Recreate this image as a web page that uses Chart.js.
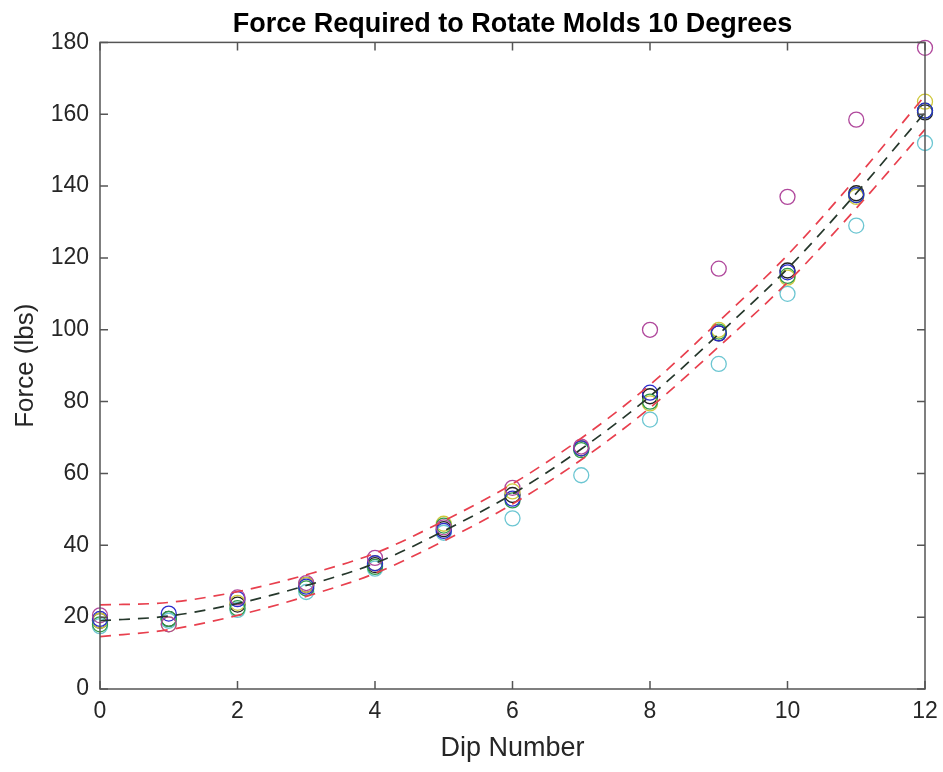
<!DOCTYPE html>
<html>
<head>
<meta charset="utf-8">
<title>Force Required to Rotate Molds 10 Degrees</title>
<script src="https://cdn.jsdelivr.net/npm/chart.js@4.4.1/dist/chart.umd.min.js"></script>
<style>
    html, body { margin: 0; padding: 0; background: #fff; }
    #wrap { width: 943px; height: 772px; }
</style>
</head>
<body>
<div id="wrap"><canvas id="moldChart"></canvas></div>
<script>
// Data
const dips = [0, 1, 2, 3, 4, 5, 6, 7, 8, 9, 10, 11, 12];

// measured force per mold (lbs)
const moldMagenta = [20.5, 18, 25.5, 29.5, 36.5, 45, 56, 67.5, 100, 117, 137, 158.5, 178.5];
const moldBlue = [19.5, 21, 25, 28.5, 35, 44, 53, 67, 82.5, 99, 116, 137.5, 161];
const moldGreen = [18, 19.5, 22.5, 28, 34, 45.5, 52.5, 66.5, 80, 99.5, 115, 137.5, 161];
const moldCyan = [17.5, 19, 22, 27, 33.5, 43.5, 47.5, 59.5, 75, 90.5, 110, 129, 152];
const moldYellow = [19, 18, 24, 29, 35, 46, 55, 67, 79.5, 100, 114.5, 137, 163.5];
const moldBlack = [19, 19.5, 23.5, 29, 34.5, 44.5, 54, 67, 81.5, 99, 116.5, 138, 160.5];

// fitted curve and its bounds
const fitMid = [19, 20.3, 23.8, 28.8, 35, 44, 54.3, 66.8, 81.5, 98.8, 117, 138, 160.5];
const fitUpper = [23.4, 24.1, 27.1, 31.8, 37.8, 46.8, 57.1, 69.8, 84.7, 102.3, 120.8, 142.2, 165.2];
const fitLower = [14.6, 16.5, 20.5, 25.8, 32.2, 41.2, 51.5, 63.8, 78.3, 95.3, 113.2, 133.8, 155.8];

const xTicks = [0, 2, 4, 6, 8, 10, 12];
const yTicks = [0, 20, 40, 60, 80, 100, 120, 140, 160, 180];

const fontFamily = "'Liberation Sans', Arial, sans-serif";
const textColor = '#262626';

// pair x values with y values for the scatter/line datasets
const toPoints = (ys) => dips.map((d, i) => ({ x: d, y: ys[i] }));

const fitLine = (label, ys, color) => ({
    label,
    data: toPoints(ys),
    showLine: true,
    borderColor: color,
    borderWidth: 1.7,
    borderDash: [11, 8],
    pointRadius: 0,
    cubicInterpolationMode: 'monotone',
    fill: false
});

const moldPoints = (label, ys, color) => ({
    label,
    data: toPoints(ys),
    showLine: false,
    pointStyle: 'circle',
    pointRadius: 7.5,
    pointBorderWidth: 1.3,
    pointBorderColor: color,
    pointBackgroundColor: 'rgba(0,0,0,0)',
    borderColor: color,
    clip: false
});

// box round the plot with inward ticks on all four sides
const frameTicks = {
    id: 'frameTicks',
    afterDatasetsDraw(chart) {
        const { ctx, chartArea: a, scales: { x, y } } = chart;
        const len = 8;
        ctx.save();
        ctx.strokeStyle = '#555';
        ctx.lineWidth = 1.5;
        ctx.strokeRect(a.left, a.top, a.right - a.left, a.bottom - a.top);
        ctx.beginPath();
        x.ticks.forEach(t => {
            const px = x.getPixelForValue(t.value);
            ctx.moveTo(px, a.bottom); ctx.lineTo(px, a.bottom - len);
            ctx.moveTo(px, a.top); ctx.lineTo(px, a.top + len);
        });
        y.ticks.forEach(t => {
            const py = y.getPixelForValue(t.value);
            ctx.moveTo(a.left, py); ctx.lineTo(a.left + len, py);
            ctx.moveTo(a.right, py); ctx.lineTo(a.right - len, py);
        });
        ctx.stroke();
        ctx.restore();
    }
};

const ctx = document.getElementById('moldChart').getContext('2d');

new Chart(ctx, {
    type: 'scatter',
    data: {
        datasets: [
            fitLine('Fit', fitMid, '#26382c'),
            fitLine('Upper bound', fitUpper, '#e8404e'),
            fitLine('Lower bound', fitLower, '#e8404e'),
            moldPoints('Mold 1', moldMagenta, '#b0489c'),
            moldPoints('Mold 2', moldBlue, '#2b2bcc'),
            moldPoints('Mold 3', moldGreen, '#2f9a4a'),
            moldPoints('Mold 4', moldCyan, '#6cc6d2'),
            moldPoints('Mold 5', moldYellow, '#cfc83c'),
            moldPoints('Mold 6', moldBlack, '#222222')
        ]
    },
    options: {
        responsive: true,
        maintainAspectRatio: false,
        animation: false,
        layout: { padding: { right: 18 } },
        plugins: {
            legend: { display: false },
            tooltip: { enabled: false },
            title: {
                display: true,
                fullSize: false,
                text: 'Force Required to Rotate Molds 10 Degrees',
                color: '#000',
                font: { family: fontFamily, size: 27, weight: 'bold' },
                padding: { top: 8, bottom: 2 }
            }
        },
        scales: {
            x: {
                type: 'linear',
                min: 0,
                max: 12,
                afterBuildTicks: (s) => { s.ticks = xTicks.map(v => ({ value: v })); },
                afterFit: (s) => { s.height = 83; s.paddingRight = 0; },
                grid: { display: false, drawTicks: false },
                border: { display: false },
                ticks: { color: textColor, padding: 9, font: { family: fontFamily, size: 23 } },
                title: {
                    display: true,
                    text: 'Dip Number',
                    color: textColor,
                    font: { family: fontFamily, size: 27 },
                    padding: { top: 0, bottom: 7 }
                }
            },
            y: {
                min: 0,
                max: 180,
                afterBuildTicks: (s) => { s.ticks = yTicks.map(v => ({ value: v })); },
                afterFit: (s) => { s.width = 100; },
                grid: { display: false, drawTicks: false },
                border: { display: false },
                ticks: { color: textColor, padding: 11, font: { family: fontFamily, size: 23 } },
                title: {
                    display: true,
                    text: 'Force (lbs)',
                    color: textColor,
                    font: { family: fontFamily, size: 26 },
                    padding: { top: 10, bottom: 0 }
                }
            }
        }
    },
    plugins: [frameTicks]
});
</script>
</body>
</html>
